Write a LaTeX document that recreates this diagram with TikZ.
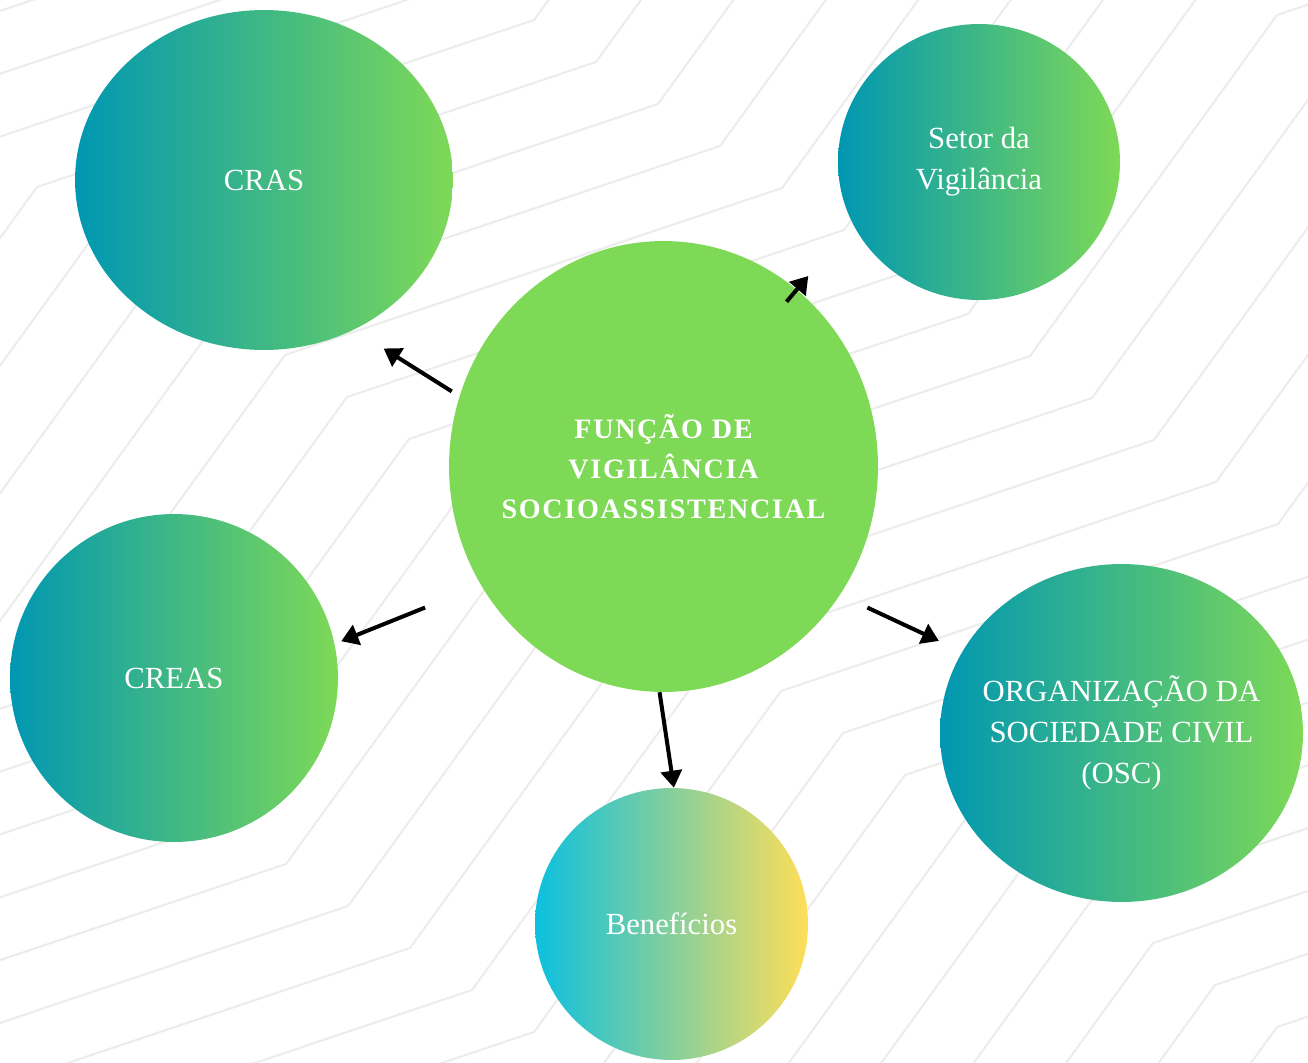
\documentclass[tikz,border=0pt]{standalone}
\usepackage{fontspec}
\setmainfont{Liberation Serif}
\newfontfamily\titlefont[LetterSpace=6.0]{Liberation Serif}
\usetikzlibrary{shapes.geometric, arrows.meta}

\definecolor{tealc}{HTML}{0097B2}
\definecolor{greenc}{HTML}{7ED957}
\definecolor{cyanc}{HTML}{0CC0DF}
\definecolor{yellowc}{HTML}{FFDE59}
\definecolor{bggray}{RGB}{236,236,236}

\tikzset{
  bubble/.style={ellipse, inner sep=0pt, draw=none},
  bubbletext/.style={text=white, align=center, font=\fontsize{17.5}{23.5}\selectfont},
  titletext/.style={text=white, align=center, font=\titlefont\bfseries\fontsize{16}{22.8}\selectfont},
  arr/.style={-{Triangle[length=0.34cm,width=0.42cm]}, line width=0.08cm},
  bgline/.style={line width=0.04cm, color=bggray},
}

\begin{document}
\begin{tikzpicture}[x=0.02cm, y=-0.02cm]
  \useasboundingbox (0,0) rectangle (1308,1062);
  \fill[white] (0,0) rectangle (1308,1062);

  % background zigzag lines
  \begin{scope}
    \clip (0,0) rectangle (1308,1062);
    \foreach \j in {-14,...,14}
      \draw[bgline, shift={(62*\j,42*\j)}] (-1699,2047) -- (-1202,1880) -- (-955,1539)
        -- (-458,1372) -- (-211,1031) -- (286,864) -- (533,523) -- (1030,356)
        -- (1277,15) -- (1774,-152) -- (2021,-493) -- (2518,-660);
  \end{scope}

  % bubbles
  \node[bubble, left color=tealc, right color=greenc, minimum width=7.56cm, minimum height=6.8cm] (cras) at (264,180) {};
  \node[bubbletext] (craslbl) at (cras) {CRAS};

  \node[bubble, left color=tealc, right color=greenc, minimum width=5.64cm, minimum height=5.52cm] (setor) at (979,162) {};
  \node[bubbletext] (setorlbl) at (setor) {Setor da\\Vigilância};

  \node[bubble, left color=tealc, right color=greenc, minimum width=6.56cm, minimum height=6.56cm] (creas) at (174,678) {};
  \node[bubbletext] (creaslbl) at (creas) {CREAS};

  \node[bubble, left color=tealc, right color=greenc, minimum width=7.26cm, minimum height=6.76cm] (osc) at (1121.5,733) {};
  \node[bubbletext] (osclbl) at (osc) {ORGANIZAÇÃO DA\\SOCIEDADE CIVIL\\(OSC)};

  \node[bubble, left color=cyanc, right color=yellowc, minimum width=5.46cm, minimum height=5.44cm] (benef) at (671.5,924) {};
  \node[bubbletext] (beneflbl) at (benef) {Benefícios};

  \node[bubble, fill=greenc, minimum width=8.58cm, minimum height=9.02cm] (main) at (663.5,466.5) {};
  \node[titletext] (mainlbl) at (main) {FUNÇÃO DE\\VIGILÂNCIA\\SOCIOASSISTENCIAL};

  % arrows
  \draw[arr, shorten <=0.18cm, shorten >=0.70cm] (main.161.2) -- (cras.301.6);
  \draw[arr, shorten <=-0.32cm, shorten >=1.37cm] (main.53.6) -- (setor.206.5);
  \draw[arr, shorten <=1.2cm, shorten >=0.14cm] (main.213.6) -- (creas.12.5);
  \draw[arr, shorten <=0.6cm, shorten >=0.51cm] (main.324.0) -- (osc.153.9);
  \draw[arr] (main.269.6) -- (benef.89.4);
\end{tikzpicture}
\end{document}
